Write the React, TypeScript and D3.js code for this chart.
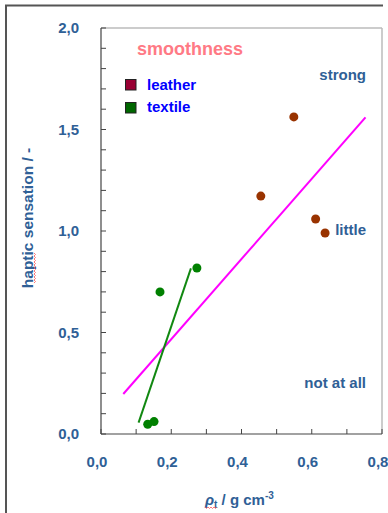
import React from "react";
import * as d3 from "d3";

const leatherX = [0.549, 0.455, 0.611, 0.638];
const leatherY = [1.562, 1.172, 1.059, 0.99];
const textileX = [0.273, 0.168, 0.133, 0.151];
const textileY = [0.818, 0.7, 0.048, 0.061];
const textileFitX = [0.107, 0.256];
const textileFitY = [0.056, 0.816];
const allFitX = [0.0635, 0.753];
const allFitY = [0.197, 1.56];
const xTickValues = [0, 0.2, 0.4, 0.6, 0.8];
const yTickValues = [0, 0.5, 1.0, 1.5, 2.0];
const legendNames = ["leather", "textile"];
const legendColors = ["#990033", "#006600"];
const levelLabels = ["strong", "little", "not at all"];
const levelY = [1.77, 1.005, 0.25];

const W = 388;
const H = 513;
const BLUE = "#2F6096";
const FONT = "Liberation Sans, Arial, sans-serif";

export default function App() {
  const x = d3.scaleLinear().domain([0, 0.8]).range([101, 382]);
  const y = d3.scaleLinear().domain([0, 2]).range([434, 28]);
  const minor = d3.range(0, 21).map((i) => i / 10);
  const minorX = d3.range(0, 9).map((i) => i / 10);
  const fmt = (v: number) => v.toFixed(1).replace(".", ",");
  const line = d3
    .line<[number, number]>()
    .x((d) => x(d[0]))
    .y((d) => y(d[1]));
  const squiggle = (x0: number, y0: number, len: number, vertical: boolean) => {
    const pts: [number, number][] = [];
    for (let i = 0; i <= len; i += 1.5) {
      const off = Math.round(i / 1.5) % 2 === 0 ? 0 : 1.5;
      pts.push(vertical ? [x0 + off, y0 + i] : [x0 + i, y0 + off]);
    }
    return d3.line()(pts) as string;
  };

  return (
    <svg
      width={W}
      height={H}
      style={{ position: "absolute", left: 0, top: 0, background: "#fff" }}
      fontFamily={FONT}
    >
      {/* outer frame */}
      <line x1={5} x2={383} y1={5.5} y2={5.5} stroke="#555" strokeWidth={2} />
      <line x1={6} x2={6} y1={5} y2={H} stroke="#555" strokeWidth={2} />

      {/* plot frame */}
      <line x1={x(0)} x2={x(0.8)} y1={y(2)} y2={y(2)} stroke="#bbb" strokeWidth={1.5} />
      <line x1={x(0.8)} x2={x(0.8)} y1={y(2)} y2={y(0)} stroke="#bbb" strokeWidth={1.5} />
      <line x1={x(0)} x2={x(0)} y1={y(2)} y2={y(0)} stroke="#444" strokeWidth={1.2} />
      <line x1={x(0)} x2={x(0.8)} y1={y(0)} y2={y(0)} stroke="#444" strokeWidth={1.2} />

      {minor.map((v) => (
        <line key={"ym" + v} x1={x(0)} x2={x(0) + 5} y1={y(v)} y2={y(v)} stroke="#444" strokeWidth={1} />
      ))}
      {minorX.map((v) => (
        <line key={"xm" + v} x1={x(v)} x2={x(v)} y1={y(0)} y2={y(0) - 5} stroke="#444" strokeWidth={1} />
      ))}

      {yTickValues.map((v) => (
        <text key={"yt" + v} x={79} y={y(v) + 5} textAnchor="end" fontSize={15} fontWeight="bold" fill={BLUE}>
          {fmt(v)}
        </text>
      ))}
      {xTickValues.map((v) => (
        <text key={"xt" + v} x={x(v) - 4} y={467} textAnchor="middle" fontSize={15} fontWeight="bold" fill={BLUE}>
          {fmt(v)}
        </text>
      ))}

      {/* axis titles */}
      <text
        transform={`translate(33,218) rotate(-90)`}
        textAnchor="middle"
        fontSize={15.5}
        fontWeight="bold"
        fill={BLUE}
      >
        haptic sensation / -
      </text>
      <path d={squiggle(34, 253, 30, true)} fill="none" stroke="#ff5555" strokeWidth={0.8} />

      <text x={205} y={505} fontSize={15} fontWeight="bold" fill={BLUE}>
        <tspan fontStyle="italic">ρ</tspan>
        <tspan fontSize={10} dy={3}>t</tspan>
        <tspan dy={-3}> / g cm</tspan>
        <tspan fontSize={10} dy={-6}>-3</tspan>
      </text>
      <path d={squiggle(205, 507, 12, false)} fill="none" stroke="#ff5555" strokeWidth={0.8} />

      {/* title and legend */}
      <text x={137} y={55} fontSize={18} fontWeight="bold" fill="#FF7A85">
        smoothness
      </text>
      {legendNames.map((n, i) => (
        <g key={n}>
          <rect x={125.5} y={79.5 + i * 23} width={10.5} height={10.5} fill={legendColors[i]} stroke="#222" strokeWidth={1} />
          <text x={147} y={90 + i * 22} fontSize={15} fontWeight="bold" fill="#0000FF">
            {n}
          </text>
        </g>
      ))}

      {levelLabels.map((t, i) => (
        <text key={t} x={366} y={y(levelY[i]) + 5} textAnchor="end" fontSize={15} fontWeight="bold" fill={BLUE}>
          {t}
        </text>
      ))}

      {/* fit lines */}
      <path
        d={line(allFitX.map((v, i) => [v, allFitY[i]]) as [number, number][]) as string}
        stroke="#FF00FF"
        strokeWidth={2}
        fill="none"
      />
      <path
        d={line(textileFitX.map((v, i) => [v, textileFitY[i]]) as [number, number][]) as string}
        stroke="#118811"
        strokeWidth={2}
        fill="none"
      />

      {/* points */}
      {leatherX.map((v, i) => (
        <circle key={"l" + i} cx={x(v)} cy={y(leatherY[i])} r={4.5} fill="#993300" />
      ))}
      {textileX.map((v, i) => (
        <circle key={"t" + i} cx={x(v)} cy={y(textileY[i])} r={4.5} fill="#008000" />
      ))}
    </svg>
  );
}
